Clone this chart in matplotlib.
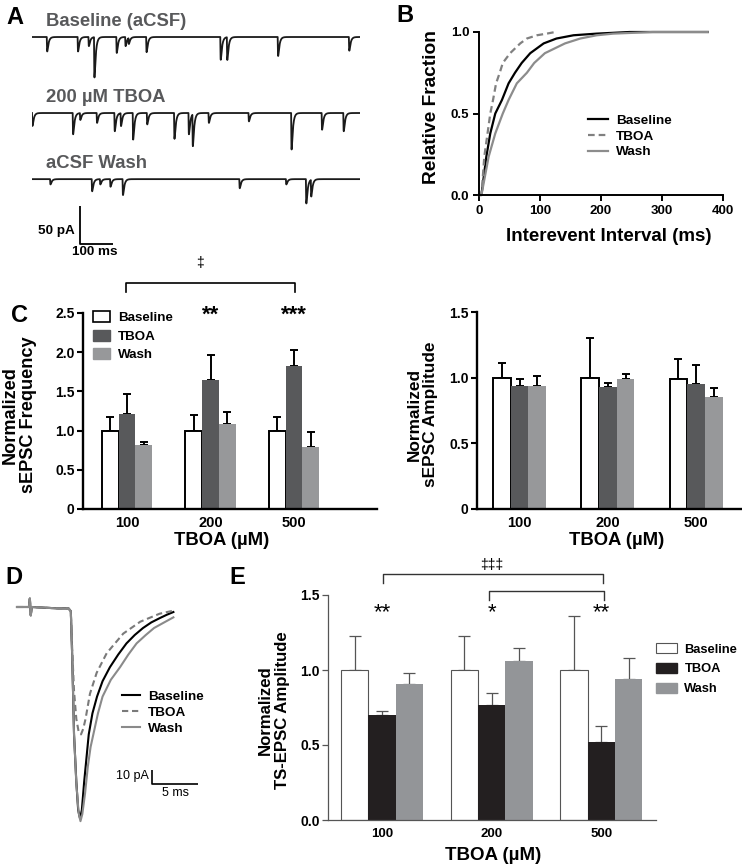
import matplotlib
matplotlib.use("Agg")
import matplotlib.pyplot as plt
import numpy as np
from matplotlib.patches import Patch

plt.rcParams['font.family'] = ['Liberation Sans', 'DejaVu Sans']
plt.rcParams['font.weight'] = 'bold'
plt.rcParams['axes.labelweight'] = 'bold'

W, H = 742, 867

# ---------------- data ----------------
doses = ['100', '200', '500']

# A: spontaneous events (time ms, amplitude pA)
base_ev_t = [45, 139, 172, 189, 257, 284, 294, 348, 574, 594, 749, 966]
base_ev_a = [19, 19, 12, 53, 21, 12, 8, 20, 30, 30, 25, 18]
tboa_ev_t = [0, 124, 146, 197, 251, 270, 307, 350, 433, 477, 489, 538, 660, 790, 883, 949]
tboa_ev_a = [17, 28, 9, 13, 24, 17, 35, 15, 34, 28, 42, 13, 11, 48, 22, 24]
wash_ev_t = [55, 182, 207, 238, 276, 632, 774, 835, 850]
wash_ev_a = [7, 16, 7, 10, 21, 12, 7, 32, 22]

# B: cumulative interevent interval (ms, fraction)
cum_base_t = [0, 4, 12, 18.5, 26.7, 37.6, 48.5, 59, 70, 84, 106, 127, 155, 193, 247, 375]
cum_base_y = [0, 0, 0.235, 0.378, 0.5, 0.583, 0.685, 0.75, 0.81, 0.87, 0.93, 0.96, 0.98, 0.99, 1.0, 1.0]
cum_tboa_t = [0, 4, 8.7, 14, 18.5, 23, 28, 34, 39, 51, 67.6, 78.5, 95, 111, 125]
cum_tboa_y = [0, 0, 0.235, 0.378, 0.5, 0.583, 0.685, 0.75, 0.81, 0.87, 0.93, 0.96, 0.98, 0.99, 1.0]
cum_wash_t = [0, 4, 15.8, 26.7, 39, 48.5, 62, 78.5, 90.5, 108, 141, 166, 193, 220, 285, 375]
cum_wash_y = [0, 0, 0.235, 0.378, 0.5, 0.583, 0.685, 0.75, 0.81, 0.87, 0.93, 0.96, 0.98, 0.99, 1.0, 1.0]

# C: normalized sEPSC frequency / amplitude (mean, +SEM)
freq_base = [1.0, 1.0, 1.0]
freq_base_err = [0.17, 0.20, 0.17]
freq_tboa = [1.21, 1.65, 1.83]
freq_tboa_err = [0.26, 0.31, 0.20]
freq_wash = [0.81, 1.09, 0.79]
freq_wash_err = [0.04, 0.15, 0.19]

amp_base = [1.0, 1.0, 0.99]
amp_base_err = [0.11, 0.30, 0.15]
amp_tboa = [0.94, 0.93, 0.95]
amp_tboa_err = [0.05, 0.03, 0.15]
amp_wash = [0.94, 0.99, 0.85]
amp_wash_err = [0.07, 0.04, 0.07]

# D: averaged TS-EPSC traces (ms, pA)
ts_base_t = [0, 1.3, 1.4, 1.5, 1.6, 3, 4.5, 5.6, 5.85, 6.0, 6.2, 6.45, 6.65, 6.85, 7.05, 7.3, 7.55,
             7.8, 8.2, 8.7, 9.3, 10.1, 11.0, 11.9, 12.8, 13.7, 14.6, 15.5, 16.3, 17.0]
ts_base_a = [0, 0, 6, -6, 0, -0.5, -1, -1, -3, -35, -91, -125, -145, -151, -145, -125, -108,
             -91, -76, -64, -53, -43, -34, -26, -20, -15, -11, -8, -5.5, -3.6]
ts_tboa_t = [0, 1.3, 1.4, 1.5, 1.6, 3, 4.5, 5.6, 5.85, 6.0, 6.2, 6.45, 6.7, 6.96, 7.2, 7.45,
             7.93, 8.66, 9.75, 11.55, 13.4, 15.5, 17.0]
ts_tboa_a = [0, 0, 6, -6, 0, -0.5, -1, -1, -3, -30, -60, -80, -89, -91, -87, -80,
             -62, -47, -33, -19, -10.5, -4.8, -2.6]
ts_wash_t = [0, 1.3, 1.4, 1.5, 1.6, 3, 4.5, 5.6, 5.85, 6.0, 6.2, 6.45, 6.7, 6.9, 7.1, 7.4, 7.7,
             8.0, 8.3, 8.8, 9.3, 10.2, 11.2, 12.1, 13.0, 14.0, 14.9, 16.0, 17.0]
ts_wash_a = [0, 0, 6, -6, 0, -0.5, -1, -1, -3, -35, -91, -126, -147, -153, -148, -133, -114,
             -100, -91, -76, -64, -52, -43, -34, -26, -20, -15, -11, -7.4]

# E: normalized TS-EPSC amplitude
ts_amp_base = [1.0, 1.0, 1.0]
ts_amp_base_err = [0.23, 0.23, 0.36]
ts_amp_tboa = [0.70, 0.77, 0.52]
ts_amp_tboa_err = [0.03, 0.08, 0.11]
ts_amp_wash = [0.91, 1.06, 0.94]
ts_amp_wash_err = [0.07, 0.09, 0.14]

# ---------------- figure ----------------
fig = plt.figure(figsize=(W / 100, H / 100), dpi=100)


def px_axes(x0, y0, x1, y1):
    return fig.add_axes([x0 / W, 1 - y1 / H, (x1 - x0) / W, (y1 - y0) / H])


def px_text(x, y, s, **kw):
    fig.text(x / W, 1 - y / H, s, **kw)


def style_axes(ax, lw, color='black'):
    for side in ['top', 'right']:
        ax.spines[side].set_visible(False)
    for side in ['left', 'bottom']:
        ax.spines[side].set_linewidth(lw)
        ax.spines[side].set_color(color)


def draw_bars(ax, vals, errs, x, w, face, edge, lw, ecolor, elw, cap):
    ax.bar(x, vals, w, color=face, edgecolor=edge, linewidth=lw, zorder=2)
    ax.errorbar(x, vals, yerr=[np.zeros(len(vals)), errs], fmt='none', ecolor=ecolor,
                elinewidth=elw, capsize=cap, capthick=elw, zorder=1)


# panel letters
for letter, (lx, ly) in zip('ABCDE', [(15, 17), (405, 16), (19, 315), (14, 577), (237, 577)]):
    px_text(lx, ly, letter, fontsize=17, ha='center', va='center')

# ---- A: raw traces ----
t = np.arange(0, 1000.5, 0.5)
kern_s = np.linspace(0, 40, 4001)
kern_peak = np.max(np.exp(-kern_s / 4.0) - np.exp(-kern_s / 0.7))


def trace(ev_t, ev_a):
    y = np.zeros_like(t)
    for t0, a in zip(ev_t, ev_a):
        s = t - t0
        m = s > 0
        y[m] -= a * (np.exp(-s[m] / 4.0) - np.exp(-s[m] / 0.7)) / kern_peak
    return y


axA = px_axes(32, 0, 360, 260)
axA.set_xlim(0, 1000)
axA.set_ylim(-293.4, 48.7)
axA.axis('off')
for (ev_t, ev_a), off in zip([(base_ev_t, base_ev_a), (tboa_ev_t, tboa_ev_a), (wash_ev_t, wash_ev_a)],
                             [0, -100, -187]):
    axA.plot(t, trace(ev_t, ev_a) + off, color='#1a1a1a', lw=1.3)
axA.plot([146, 146, 247], [-222, -272, -272], color='black', lw=1.3, solid_capstyle='butt')
grey_txt = '#58595b'
px_text(46, 21, 'Baseline (aCSF)', fontsize=13.3, color=grey_txt, va='center')
px_text(46, 97, '200 \u00b5M TBOA', fontsize=13.3, color=grey_txt, va='center')
px_text(46, 163, 'aCSF Wash', fontsize=13.3, color=grey_txt, va='center')
px_text(75, 231, '50 pA', fontsize=9.7, ha='right', va='center')
px_text(95, 252, '100 ms', fontsize=9.7, ha='center', va='center')

# ---- B: cumulative distributions ----
axB = px_axes(479, 32, 723, 195)
style_axes(axB, 1.4)
axB.plot(cum_base_t, cum_base_y, color='black', lw=1.6, label='Baseline', clip_on=False)
axB.plot(cum_tboa_t, cum_tboa_y, color='#808080', lw=1.6, ls=(0, (3, 1.8)), label='TBOA', clip_on=False)
axB.plot(cum_wash_t, cum_wash_y, color='#8c8c8c', lw=1.6, label='Wash', clip_on=False)
axB.set_xlim(0, 400)
axB.set_ylim(0, 1.0)
axB.set_xticks([0, 100, 200, 300, 400])
axB.set_yticks([0, 0.5, 1.0])
axB.set_yticklabels(['0.0', '0.5', '1.0'])
axB.tick_params(labelsize=9.5, width=1.4, length=4, pad=3)
axB.set_ylabel('Relative Fraction', fontsize=13.8)
axB.yaxis.set_label_coords(-0.16, 0.537)
axB.set_xlabel('Interevent Interval (ms)', fontsize=13.5)
axB.xaxis.set_label_coords(0.53, -0.2)
axB.legend(frameon=False, loc='center left', bbox_to_anchor=(0.445, 0.36), fontsize=9.7,
           handlelength=1.5, handletextpad=0.6, labelspacing=0.25, borderpad=0, borderaxespad=0)

# ---- C: sEPSC frequency and amplitude ----
dark_c = '#58595b'
light_c = '#97989a'
x = np.arange(3)

axC1 = px_axes(83, 313, 377, 509)
style_axes(axC1, 1.7)
w = 0.2
draw_bars(axC1, freq_base, freq_base_err, x - w, w, 'white', 'black', 1.4, 'black', 1.4, 3)
draw_bars(axC1, freq_tboa, freq_tboa_err, x, w, dark_c, dark_c, 0, 'black', 1.4, 3)
draw_bars(axC1, freq_wash, freq_wash_err, x + w, w, light_c, light_c, 0, 'black', 1.4, 3)
axC1.set_xlim(-0.527, 2.994)
axC1.set_ylim(0, 2.5)
axC1.set_yticks([0, 0.5, 1.0, 1.5, 2.0, 2.5])
axC1.set_yticklabels(['0', '0.5', '1.0', '1.5', '2.0', '2.5'])
axC1.set_xticks(x)
axC1.set_xticklabels(doses)
axC1.tick_params(axis='y', labelsize=10, width=1.5, length=4, pad=2)
axC1.tick_params(axis='x', labelsize=10.5, length=0, pad=5)
axC1.set_ylabel('Normalized\nsEPSC Frequency', fontsize=13.1, linespacing=1.1)
axC1.yaxis.set_label_coords(-0.156, 0.48)
axC1.set_xlabel('TBOA (\u00b5M)', fontsize=13.3)
axC1.xaxis.set_label_coords(0.473, -0.118)
handles = [Patch(facecolor='white', edgecolor='black', linewidth=1.2, label='Baseline'),
           Patch(facecolor=dark_c, edgecolor=dark_c, label='TBOA'),
           Patch(facecolor=light_c, edgecolor=light_c, label='Wash')]
axC1.legend(handles=handles, frameon=False, loc='upper left', bbox_to_anchor=(0.034, 1.01),
            fontsize=9.6, handlelength=1.3, handleheight=0.9, handletextpad=0.6,
            labelspacing=0.4, borderpad=0, borderaxespad=0)
axC1.text(1, 2.47, '**', fontsize=16, ha='center', va='center')
axC1.text(2, 2.47, '***', fontsize=16, ha='center', va='center')
axC1.plot([-0.01, -0.01, 2.01, 2.01], [2.77, 2.88, 2.88, 2.77], color='black', lw=1.2, clip_on=False)
axC1.text(0.87, 3.14, '\u2021', fontsize=10, ha='center', va='center', fontweight='normal')

axC2 = px_axes(477, 312, 742, 509)
style_axes(axC2, 1.7)
draw_bars(axC2, amp_base, amp_base_err, x - w, w, 'white', 'black', 1.4, 'black', 1.4, 3)
draw_bars(axC2, amp_tboa, amp_tboa_err, x, w, dark_c, dark_c, 0, 'black', 1.4, 3)
draw_bars(axC2, amp_wash, amp_wash_err, x + w, w, light_c, light_c, 0, 'black', 1.4, 3)
axC2.set_xlim(-0.483, 2.52)
axC2.set_ylim(0, 1.5)
axC2.set_yticks([0, 0.5, 1.0, 1.5])
axC2.set_yticklabels(['0', '0.5', '1.0', '1.5'])
axC2.set_xticks(x)
axC2.set_xticklabels(doses)
axC2.tick_params(axis='y', labelsize=10, width=1.5, length=4, pad=2)
axC2.tick_params(axis='x', labelsize=10.5, length=0, pad=5)
axC2.set_ylabel('Normalized\nsEPSC Amplitude', fontsize=12.4, linespacing=1.1)
axC2.yaxis.set_label_coords(-0.147, 0.48)
axC2.set_xlabel('TBOA (\u00b5M)', fontsize=13.3)
axC2.xaxis.set_label_coords(0.528, -0.118)

# ---- D: averaged TS-EPSCs ----
axD = px_axes(10, 595, 210, 830)
axD.set_xlim(-0.76, 20.98)
axD.set_ylim(-159.3, 8.57)
axD.axis('off')
axD.plot(ts_base_t, ts_base_a, color='black', lw=1.5, label='Baseline')
axD.plot(ts_tboa_t, ts_tboa_a, color='#7a7a7a', lw=1.5, ls=(0, (3, 1.8)), label='TBOA')
axD.plot(ts_wash_t, ts_wash_a, color='#8a8a8a', lw=1.5, label='Wash')
axD.plot([14.67, 14.67, 19.67], [-116.4, -126.4, -126.4], color='black', lw=1.2, solid_capstyle='butt')
axD.text(14.3, -121, '10 pA', fontsize=9, fontweight='normal', ha='right', va='center')
axD.text(17.2, -133, '5 ms', fontsize=9, fontweight='normal', ha='center', va='center')
axD.legend(frameon=False, loc='center left', bbox_to_anchor=(0.56, 0.5), fontsize=9.7,
           handlelength=1.35, handletextpad=0.6, labelspacing=0.25, borderpad=0, borderaxespad=0)

# ---- E: TS-EPSC amplitude ----
black_c = '#231f20'
grey_c = '#939598'
axE = px_axes(328, 595, 656, 820)
style_axes(axE, 0.9, '#555555')
w = 0.25
draw_bars(axE, ts_amp_base, ts_amp_base_err, x - w, w, 'white', '#555555', 0.8, '#555555', 0.9, 4.5)
draw_bars(axE, ts_amp_tboa, ts_amp_tboa_err, x, w, black_c, black_c, 0, '#555555', 0.9, 4.5)
draw_bars(axE, ts_amp_wash, ts_amp_wash_err, x + w, w, grey_c, grey_c, 0, '#555555', 0.9, 4.5)
axE.set_xlim(-0.493, 2.5)
axE.set_ylim(0, 1.5)
axE.set_yticks([0, 0.5, 1.0, 1.5])
axE.set_yticklabels(['0.0', '0.5', '1.0', '1.5'])
axE.set_xticks(x)
axE.set_xticklabels(doses)
axE.tick_params(axis='y', labelsize=10, width=0.9, length=4, pad=2, color='#555555')
axE.tick_params(axis='x', labelsize=9.5, length=0, pad=6)
axE.set_ylabel('Normalized\nTS-EPSC Amplitude', fontsize=12.1, linespacing=1.15)
axE.yaxis.set_label_coords(-0.116, 0.49)
axE.set_xlabel('TBOA (\u00b5M)', fontsize=13.5)
axE.xaxis.set_label_coords(0.503, -0.12)
handles = [Patch(facecolor='white', edgecolor='#555555', linewidth=0.8, label='Baseline'),
           Patch(facecolor=black_c, edgecolor=black_c, label='TBOA'),
           Patch(facecolor=grey_c, edgecolor=grey_c, label='Wash')]
axE.legend(handles=handles, frameon=False, loc='center left', bbox_to_anchor=(1.0, 0.671),
           fontsize=9.3, handlelength=1.65, handleheight=0.9, handletextpad=0.55,
           labelspacing=0.55, borderpad=0, borderaxespad=0)
for xi, s in zip(x, ['**', '*', '**']):
    axE.text(xi, 1.38, s, fontsize=16, ha='center', va='center', fontweight='normal')
axE.plot([0.977, 0.977, 2.03, 2.03], [1.467, 1.527, 1.527, 1.467], color='#333333', lw=1.0, clip_on=False)
axE.plot([0.01, 0.01, 2.02, 2.02], [1.58, 1.64, 1.64, 1.58], color='#333333', lw=1.0, clip_on=False)
axE.text(1.0, 1.70, '\u2021\u2021\u2021', fontsize=10, ha='center', va='center', fontweight='normal')

fig.savefig('out.png', dpi=100)
